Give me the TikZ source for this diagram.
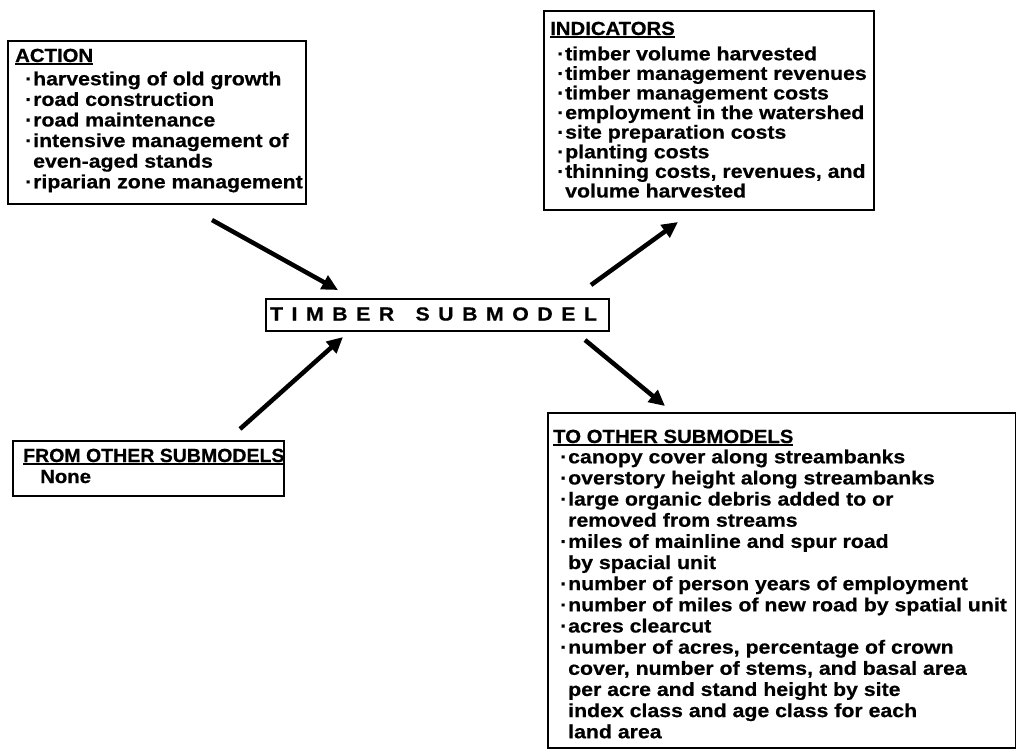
\documentclass[tikz,border=0pt]{standalone}
\usepackage{fontspec}
\setmainfont{Liberation Sans}
\newfontfamily\bodyf{Liberation Sans}[FakeStretch=1.12, BoldFeatures={FakeBold=0.6}]
\newfontfamily\headf{Liberation Sans}[FakeStretch=1.07, BoldFeatures={FakeBold=0.6}]
\usetikzlibrary{arrows.meta}
\newcommand\hdr[1]{\setbox0\hbox{#1}\rlap{\rule[-3pt]{\wd0}{2.4pt}}\box0}
\newcommand\itm{\makebox[8pt][l]{·}}
\newcommand\cnt{\hspace*{8pt}}
\begin{document}
\begin{tikzpicture}[x=1pt,y=-1pt,
  box/.style={draw, line width=2.2pt, inner sep=0pt, anchor=north west},
  hd/.style={anchor=base west, inner sep=0pt, font=\headf\bfseries\fontsize{19}{20}\selectfont},
  txt/.style={anchor=north west, inner sep=0pt, align=left},
  arr/.style={line width=4.5pt, -{Triangle[length=16pt,width=15pt]}}]
\useasboundingbox (0,0) rectangle (1016,748);
% boxes
\node[box, minimum width=298pt, minimum height=163pt] (actionbox) at (7,40) {};
\node[box, minimum width=330pt, minimum height=199pt] (indbox) at (543,10) {};
\node[box, minimum width=343pt, minimum height=32pt] (timberbox) at (265,298) {};
\node[box, minimum width=271pt, minimum height=55pt] (frombox) at (12,440) {};
\node[box, minimum width=468pt, minimum height=335pt] (tobox) at (547,412) {};
% headers
\node[hd] (actionhd) at (15,62) {\hdr{ACTION}};
\node[hd] (indhd) at (550,35) {\hdr{INDICATORS}};
\node[hd] (fromhd) at (23,462) {\hdr{\scalebox{0.96}[1]{FROM OTHER SUBMODELS}}};
\node[hd] (tohd) at (553,443) {\hdr{TO OTHER SUBMODELS}};
\node[hd] (none) at (40,483) {None};
% lists
\node[txt, font=\bodyf\bfseries\fontsize{19}{20.6}\selectfont] (actionlist) at (25,71.3) {%
\itm harvesting of old growth\\
\itm road construction\\
\itm road maintenance\\
\itm intensive management of\\
\cnt even-aged stands\\
\itm riparian zone management};
\node[txt, font=\bodyf\bfseries\fontsize{19}{19.6}\selectfont] (indlist) at (557,46.3) {%
\itm timber volume harvested\\
\itm timber management revenues\\
\itm timber management costs\\
\itm employment in the watershed\\
\itm site preparation costs\\
\itm planting costs\\
\itm thinning costs, revenues, and\\
\cnt volume harvested};
\node[txt, font=\bodyf\bfseries\fontsize{19}{21.15}\selectfont] (tolist) at (560,449.3) {%
\itm canopy cover along streambanks\\
\itm overstory height along streambanks\\
\itm large organic debris added to or\\
\cnt removed from streams\\
\itm miles of mainline and spur road\\
\cnt by spacial unit\\
\itm number of person years of employment\\
\itm number of miles of new road by spatial unit\\
\itm acres clearcut\\
\itm number of acres, percentage of crown\\
\cnt cover, number of stems, and basal area\\
\cnt per acre and stand height by site\\
\cnt index class and age class for each\\
\cnt land area};
% title
\node[inner sep=0pt, font=\bodyf\bfseries\fontsize{19}{20}\selectfont] (timber) at (433.5,314)
 {\makebox[327pt][s]{T\hfil I\hfil M\hfil B\hfil E\hfil R\hskip 0pt plus 2.5fil S\hfil U\hfil B\hfil M\hfil O\hfil D\hfil E\hfil L}};
% arrows
\coordinate (a1) at (212,220); \coordinate (a2) at (338,290);
\coordinate (f1) at (240,429); \coordinate (f2) at (343,337);
\coordinate (i1) at (591,285); \coordinate (i2) at (678,222);
\coordinate (t1) at (585,340); \coordinate (t2) at (665,406);
\draw[arr] (a1) -- (a2);
\draw[arr] (f1) -- (f2);
\draw[arr] (i1) -- (i2);
\draw[arr] (t1) -- (t2);
\end{tikzpicture}
\end{document}
